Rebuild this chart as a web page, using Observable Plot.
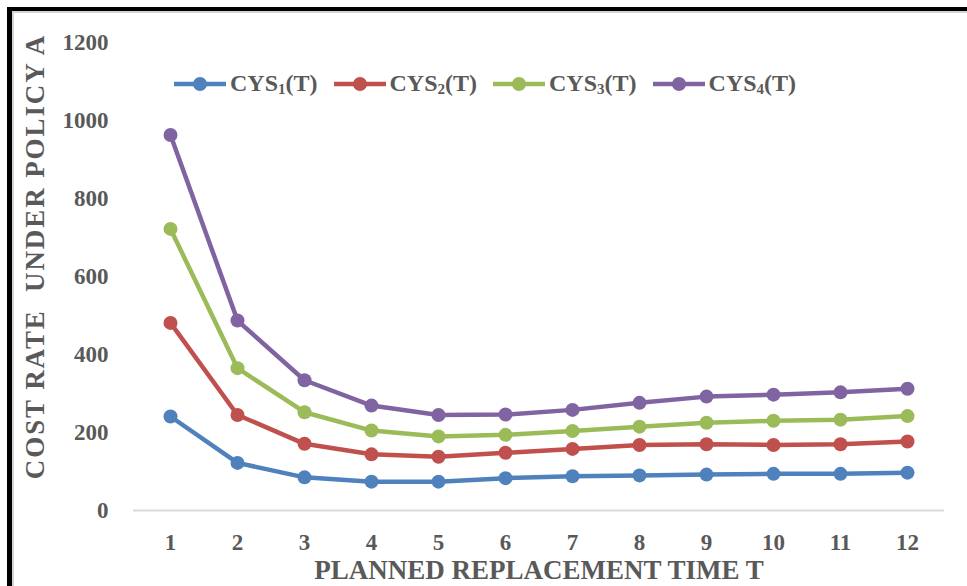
<!DOCTYPE html>
<html>
<head>
<meta charset="utf-8">
<script src="https://cdn.jsdelivr.net/npm/d3@7"></script>
<script src="https://cdn.jsdelivr.net/npm/@observablehq/plot@0.6"></script>
<style>
  html, body { margin: 0; padding: 0; background: white; }
  #wrap { position: relative; width: 967px; height: 586px; overflow: hidden; background: white; }
  #wrap > svg { position: absolute; left: 0; top: 0; }
  .frame-black { position: absolute; left: 7px; top: 7px; right: 0; bottom: 0;
    border-top: 4px solid #000; border-left: 5px solid #000; pointer-events: none; }
  .frame-gray { position: absolute; left: 12px; top: 11px; right: 0; bottom: 0;
    border-top: 2px solid #d4d4d4; border-left: 2px solid #d4d4d4; pointer-events: none; }
  #legend { position: absolute; left: 173px; top: 70px; display: flex; gap: 15px;
    font-family: "Liberation Serif", serif; font-weight: bold; font-size: 24px; color: #595959; }
  .item { display: flex; align-items: center; }
  #legend .item svg { position: static; display: block; margin-right: 3px; }
  .item sub { font-size: 15px; vertical-align: -3px; }
</style>
</head>
<body>
<div id="wrap"></div>
<script>
const T = [1, 2, 3, 4, 5, 6, 7, 8, 9, 10, 11, 12];
const cys1 = [241, 122, 85, 74, 74, 83, 88, 90, 92, 94, 94, 97];
const cys2 = [481, 245, 171, 144, 138, 148, 158, 168, 170, 168, 170, 177];
const cys3 = [722, 365, 252, 205, 190, 194, 204, 215, 225, 230, 233, 242];
const cys4 = [963, 487, 334, 269, 245, 246, 258, 276, 292, 297, 303, 312];
const seriesNames = ["CYS1(T)", "CYS2(T)", "CYS3(T)", "CYS4(T)"];
const seriesSub = ["1", "2", "3", "4"];
const seriesColors = ["#4F81BD", "#C0504D", "#9BBB59", "#8064A2"];
const yTicks = [0, 200, 400, 600, 800, 1000, 1200];
const yTitle = "COST RATE\u00A0 UNDER POLICY A";
const xTitle = "PLANNED REPLACEMENT TIME T";

const allSeries = [cys1, cys2, cys3, cys4];
const data = [];
allSeries.forEach((vals, s) => {
  vals.forEach((v, i) => data.push({series: seriesNames[s], T: T[i], value: v}));
});

const font = "'Liberation Serif', serif";
const textColor = "#595959";

const chart = Plot.plot({
  width: 967,
  height: 586,
  marginLeft: 133,
  marginRight: 23,
  marginTop: 42,
  marginBottom: 76,
  style: {fontFamily: font, fontWeight: "bold", color: textColor, background: "transparent", overflow: "visible"},
  x: {type: "point", domain: T, padding: 0.5},
  y: {domain: [0, 1200]},
  color: {domain: seriesNames, range: seriesColors},
  marks: [
    Plot.ruleY([0], {stroke: "#d9d9d9", strokeWidth: 2}),
    Plot.axisY({ticks: yTicks, tickFormat: d => String(d), tickSize: 0, tickPadding: 25, fontSize: 23, fill: textColor, label: null}),
    Plot.axisX({tickSize: 0, tickPadding: 23, fontSize: 23, fill: textColor, label: null}),
    Plot.line(data, {x: "T", y: "value", z: "series", stroke: "series", strokeWidth: 4.5}),
    Plot.dot(data, {x: "T", y: "value", fill: "series", r: 7}),
    Plot.text([yTitle], {frameAnchor: "left", textAnchor: "middle", lineAnchor: "middle", dx: -98, dy: -20, rotate: -90, fontSize: 27, fill: textColor, fontWeight: "bold"}),
    Plot.text([xTitle], {frameAnchor: "bottom", textAnchor: "middle", lineAnchor: "middle", dy: 60, fontSize: 27, fill: textColor, fontWeight: "bold"})
  ]
});

// widen the rotated y title to the reference's span
d3.select(chart).selectAll("text").filter(function() { return this.textContent === yTitle; })
  .attr("letter-spacing", "1.9px");

const wrap = document.getElementById("wrap");
wrap.appendChild(chart);

const legend = document.createElement("div");
legend.id = "legend";
seriesNames.forEach((name, i) => {
  const item = document.createElement("div");
  item.className = "item";
  const c = seriesColors[i];
  item.innerHTML = `<svg width="54" height="16"><line x1="1" y1="8" x2="53" y2="8" stroke="${c}" stroke-width="4.5"/><circle cx="27" cy="8" r="7" fill="${c}"/></svg><span>CYS<sub>${seriesSub[i]}</sub>(T)</span>`;
  legend.appendChild(item);
});
wrap.appendChild(legend);

const fb = document.createElement("div"); fb.className = "frame-gray"; wrap.appendChild(fb);
const fa = document.createElement("div"); fa.className = "frame-black"; wrap.appendChild(fa);
</script>
</body>
</html>
